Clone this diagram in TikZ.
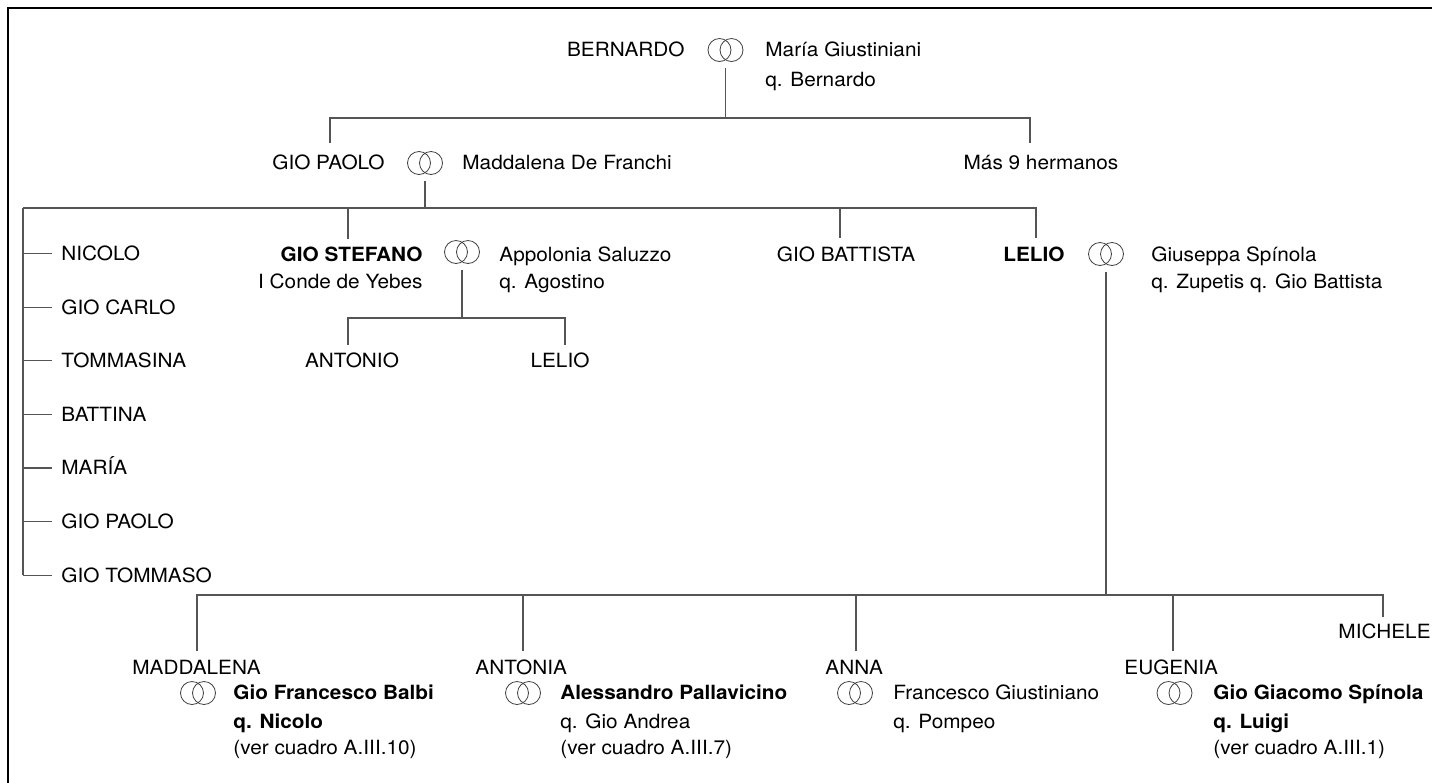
\documentclass[tikz,border=0pt]{standalone}
\usepackage{fontspec}
\setmainfont{TeX Gyre Heros}[FakeStretch=1.06]
\definecolor{linegray}{RGB}{85,85,85}
\newcommand\marr[3]{%
  \node[ring] (#1a) at (#2-6,#3) {};
  \node[ring] (#1b) at (#2+6,#3) {};
  \coordinate (#1) at (#2,#3+18);}
\begin{document}
\begin{tikzpicture}[x=0.5pt,y=-0.5pt,
  every node/.style={inner sep=0pt, font=\fontsize{9.8}{11}\selectfont},
  ln/.style={draw=linegray, line width=0.6pt},
  ring/.style={circle, draw=black!75, line width=0.4pt, minimum size=11.5pt, inner sep=0pt},
  nm/.style={anchor=base west},
  nmr/.style={anchor=base east},
  bold/.style={font=\fontsize{9.8}{11}\selectfont\bfseries},
  lst/.style={anchor=west, text height=7pt, text depth=0pt}]
\useasboundingbox (0,0) rectangle (1432,783);
% frame
\draw[line width=1pt] (1432,8) -- (8,8) -- (8,783);

% generation 1
\node[nmr] (bernardo) at (685,56.5) {BERNARDO};
\marr{m1}{725.5}{50}
\node[nm] (maria) at (765,56.5) {María Giustiniani};
\node[nm] (maria2) at (765,86.5) {q. Bernardo};
\coordinate (j1) at (725.5,118);
\draw[ln] (m1) -- (j1);
\coordinate (gpt) at (330,143);
\coordinate (mast) at (1030,143);
\draw[ln] (gpt) |- (j1) -| (mast);

% generation 2
\node[nmr] (giopaolo) at (385,169.5) {GIO PAOLO};
\marr{m2}{425}{163}
\node[nm] (maddalena) at (462,169.5) {Maddalena De Franchi};
\node[anchor=base] (mas) at (1041,169.5) {Más 9 hermanos};
\coordinate (j2) at (425,208);
\draw[ln] (m2) -- (j2);
\coordinate (lbar) at (23,208);
\coordinate (gst) at (348,239);
\coordinate (gbt) at (840,238);
\coordinate (let) at (1036,238);
\draw[ln] (lbar) -| (let);
\draw[ln] (gst) -- (gst |- lbar);
\draw[ln] (gbt) -- (gbt |- lbar);

% left list
\foreach \t [count=\i] in {NICOLO, GIO CARLO, TOMMASINA, BATTINA, MARÍA, GIO PAOLO, GIO TOMMASO} {
  \node[lst] (s\i) at (61,199.9+53.6*\i) {\t};
  \coordinate (t\i) at (23,199.9+53.6*\i);
  \draw[ln] (t\i) -- ([xshift=-4.5pt]s\i.west);
}
\draw[ln] (lbar) -- (t7);

% Gio Stefano
\node[nmr,bold] (giostefano) at (423,261.5) {GIO STEFANO};
\node[nmr] (conde) at (423,288.5) {I Conde de Yebes};
\marr{m3}{462}{252}
\node[nm] (appolonia) at (499,261.5) {Appolonia Saluzzo};
\node[nm] (agostino) at (499,288.5) {q. Agostino};
\coordinate (j3) at (462,318);
\draw[ln] (m3) -- (j3);
\node[anchor=base] (antonio) at (352,367.5) {ANTONIO};
\node[anchor=base] (lelio2) at (560,367.5) {LELIO};
\coordinate (ant) at (348,345);
\coordinate (lelt) at (565,345);
\draw[ln] (ant) |- (j3) -| (lelt);

% Gio Battista
\node[anchor=base] (giobattista) at (846,261.5) {GIO BATTISTA};

% Lelio
\node[nmr,bold] (lelio) at (1065,261.5) {LELIO};
\marr{m4}{1106}{254}
\node[nm] (giuseppa) at (1151,261.5) {Giuseppa Spínola};
\node[nm] (zupetis) at (1151,288.5) {q. Zupetis q. Gio Battista};
\coordinate (j4) at (1106,595);
\draw[ln] (m4) -- (j4);

% bottom generation
\coordinate (maddt) at (197,651);
\coordinate (antot) at (523,651);
\coordinate (annat) at (856,651);
\coordinate (eugt) at (1173,651);
\coordinate (micht) at (1383,617);
\draw[ln] (maddt) |- (j4) -| (micht);
\draw[ln] (antot) -- (antot |- j4);
\draw[ln] (annat) -- (annat |- j4);
\draw[ln] (eugt) -- (eugt |- j4);

\node[nmr] (michele) at (1431,638.5) {MICHELE};

\node[nm] (madd) at (132,674.5) {MADDALENA};
\marr{m5}{198}{693}
\node[nm,bold] (balbi) at (233,699.5) {Gio Francesco Balbi};
\node[nm,bold] (balbi2) at (233,728.5) {q. Nicolo};
\node[nm] (balbi3) at (233,754.5) {(ver cuadro A.III.10)};

\node[nm] (antonia) at (475,674.5) {ANTONIA};
\marr{m6}{523}{693}
\node[nm,bold] (palla) at (560,699.5) {Alessandro Pallavicino};
\node[nm] (palla2) at (560,728.5) {q. Gio Andrea};
\node[nm] (palla3) at (560,754.5) {(ver cuadro A.III.7)};

\node[nm] (anna) at (825,674.5) {ANNA};
\marr{m7}{855}{693}
\node[nm] (giust) at (893,699.5) {Francesco Giustiniano};
\node[nm] (giust2) at (893,728.5) {q. Pompeo};

\node[nm] (eugenia) at (1124,674.5) {EUGENIA};
\marr{m8}{1174.5}{693}
\node[nm,bold] (spinola) at (1213,699.5) {Gio Giacomo Spínola};
\node[nm,bold] (spinola2) at (1213,728.5) {q. Luigi};
\node[nm] (spinola3) at (1213,754.5) {(ver cuadro A.III.1)};
\end{tikzpicture}
\end{document}
